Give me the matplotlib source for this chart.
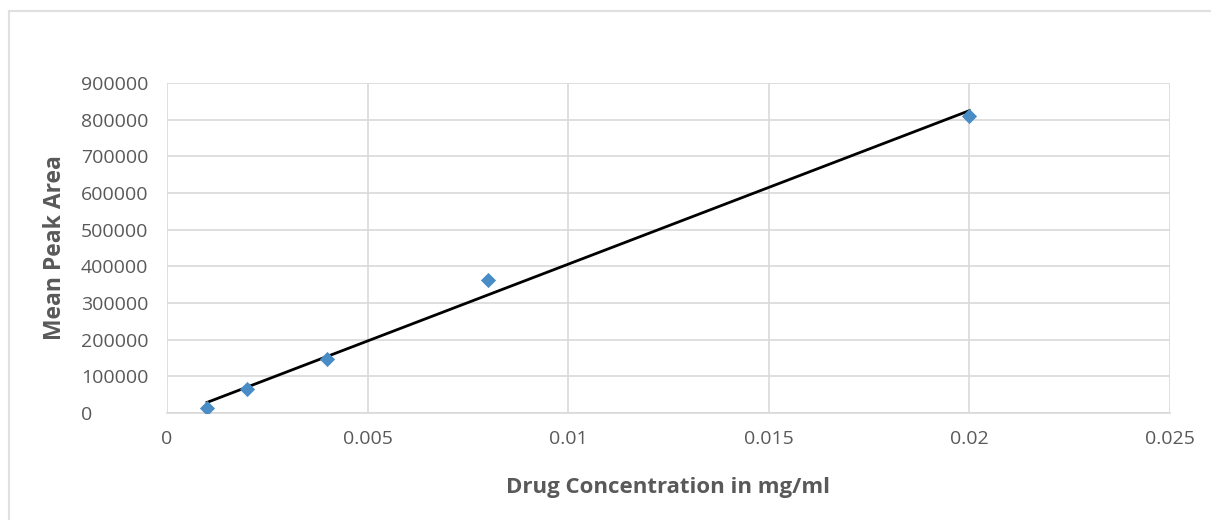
import matplotlib
matplotlib.use('Agg')
import matplotlib.pyplot as plt
import numpy as np
from matplotlib.lines import Line2D

# data
concentration = [0.001, 0.002, 0.004, 0.008, 0.02]
peak_area     = [14000, 65600, 147500, 363000, 811000]

x_ticks = [0, 0.005, 0.01, 0.015, 0.02, 0.025]
x_tick_labels = ['0', '0.005', '0.01', '0.015', '0.02', '0.025']
y_ticks = [0, 100000, 200000, 300000, 400000, 500000, 600000, 700000, 800000, 900000]

text_color = '#595959'
grid_color = '#d9d9d9'

plt.rcParams['font.family'] = ['Open Sans', 'DejaVu Sans']

fig = plt.figure(figsize=(12.11, 5.2), dpi=100)
ax  = fig.add_axes([167 / 1211, 107 / 520, 1003 / 1211, 330 / 520])

# chart frame (top and left edges visible)
fig.add_artist(Line2D([9 / 1211, 1.0], [1 - 11 / 520, 1 - 11 / 520], color='#e0e0e0', lw=1.5))
fig.add_artist(Line2D([9 / 1211, 9 / 1211], [0.0, 1 - 11 / 520], color='#e0e0e0', lw=1.5))

# linear trendline over the data range
slope, intercept = np.polyfit(concentration, peak_area, 1)
x_fit = np.array([min(concentration), max(concentration)])
ax.plot(x_fit, slope * x_fit + intercept, color='black', lw=2, zorder=3)

ax.scatter(concentration, peak_area, marker='D', s=60, color='#4a8cc6', zorder=4, linewidths=0)

ax.set_xlim(0, 0.025)
ax.set_ylim(0, 900000)
ax.set_xticks(x_ticks)
ax.set_xticklabels(x_tick_labels)
ax.set_yticks(y_ticks)
ax.set_yticklabels([str(v) for v in y_ticks])

ax.grid(True, color=grid_color, lw=1.2)
ax.set_axisbelow(True)
for side in ['top', 'right', 'left']:
    ax.spines[side].set_visible(False)
ax.spines['bottom'].set_color(grid_color)
ax.spines['bottom'].set_linewidth(1.2)

ax.tick_params(axis='both', length=0, labelsize=14, labelcolor=text_color)
ax.tick_params(axis='x', pad=12)
ax.tick_params(axis='y', pad=62)
for lbl in ax.get_yticklabels():
    lbl.set_horizontalalignment('left')

ax.set_xlabel('Drug Concentration in mg/ml', fontsize=16, fontweight='bold', color=text_color, va='center')
ax.set_ylabel('Mean Peak Area', fontsize=16.5, fontweight='bold', color=text_color, va='center')
ax.xaxis.set_label_coords(0.5, (413 - 488) / 330)
ax.yaxis.set_label_coords((55 - 167) / 1003, 0.5)

plt.savefig('out.png', dpi=100)
